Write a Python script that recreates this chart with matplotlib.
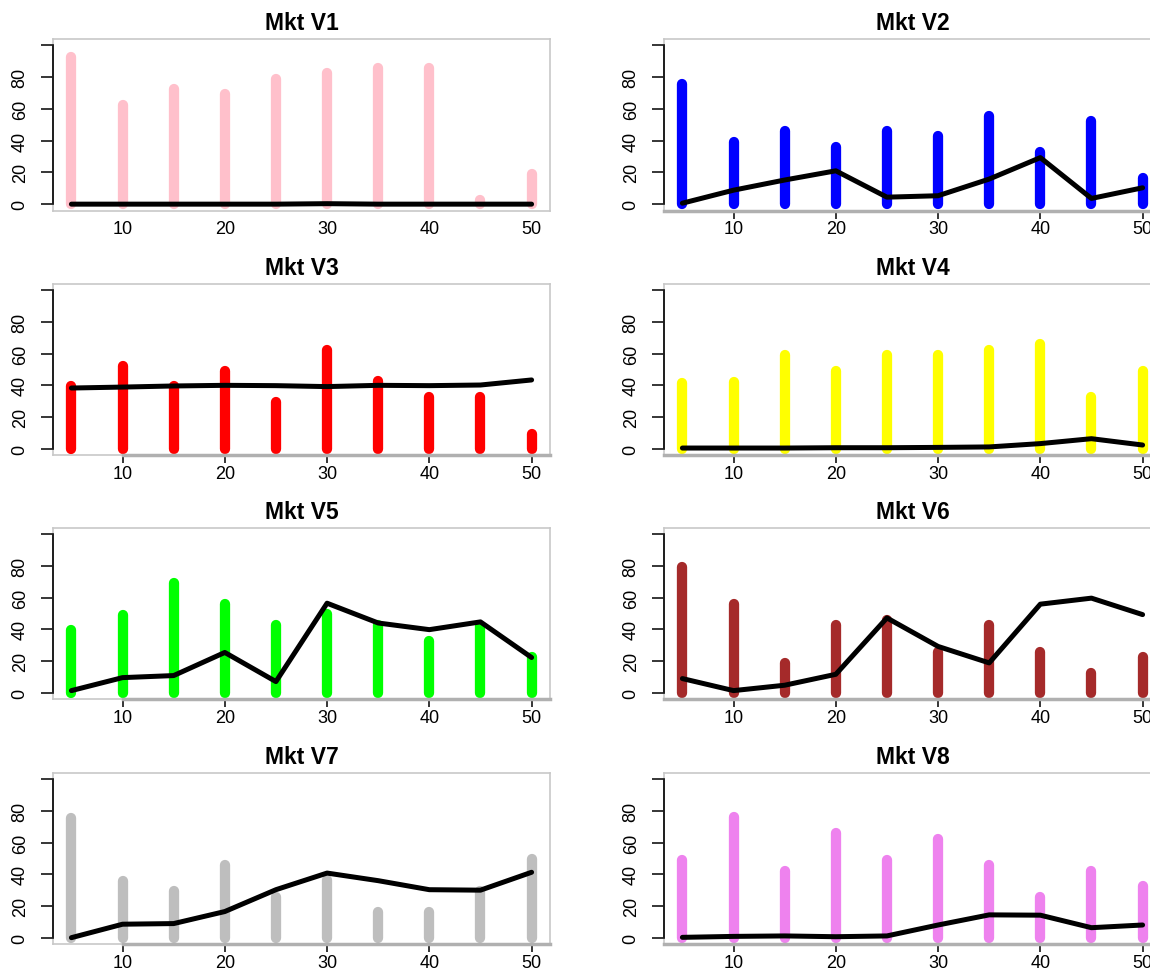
import matplotlib
matplotlib.use("Agg")
import matplotlib.pyplot as plt

plt.rcParams['font.family'] = ['Liberation Sans', 'DejaVu Sans']

# podaci
x = [5, 10, 15, 20, 25, 30, 35, 40, 45, 50]
naslovi = ["Mkt V1", "Mkt V2", "Mkt V3", "Mkt V4",
           "Mkt V5", "Mkt V6", "Mkt V7", "Mkt V8"]
boje = ["pink", "blue", "red", "yellow", "lime", "brown", "#bebebe", "violet"]

v1_stupci = [92.6, 62.5, 72.4, 69.5, 79, 82.5, 85.9, 85.9, 2.5, 19]
v1_linija = [0, 0, 0, 0, 0, 0.3, 0, 0, 0, 0]
v2_stupci = [75.8, 39.4, 45.9, 35.8, 45.9, 42.7, 55.8, 32.6, 52.6, 16.2]
v2_linija = [0.6, 8.8, 15.2, 21, 4.4, 5.3, 15.8, 29.3, 3.6, 10.3]
v3_stupci = [39.4, 52.5, 39.4, 49.3, 29.2, 62.6, 42.5, 32.4, 32.4, 9.1]
v3_linija = [38.3, 38.9, 39.6, 40, 39.8, 39.2, 40, 39.8, 40.2, 43.4]
v4_stupci = [41.3, 42.3, 59.3, 49.3, 59.3, 59.3, 62.6, 65.8, 32.4, 49.3]
v4_linija = [0.4, 0.4, 0.4, 0.6, 0.6, 0.8, 1.1, 3.2, 6.3, 2.3]
v5_stupci = [39.4, 49.3, 69.4, 56.1, 42.5, 50, 42.5, 32.4, 42, 22.4]
v5_linija = [1.3, 9.5, 10.8, 25.4, 7, 56.5, 44, 39.8, 44.7, 22.2]
v6_stupci = [79.4, 56.1, 19, 42.5, 46.1, 26, 42.5, 26, 12.3, 22.4]
v6_linija = [8.9, 1.3, 4.7, 11.6, 47.2, 29.2, 18.8, 55.9, 59.7, 49.3]
v7_stupci = [75.8, 36, 29.2, 46.1, 26, 36.5, 15.9, 15.9, 29.2, 49.5]
v7_linija = [0, 8.5, 8.9, 16.5, 30.3, 40.8, 36, 30.3, 30, 41.3]
v8_stupci = [48.9, 76.2, 42.3, 65.8, 48.9, 62.4, 45.7, 25.6, 42.3, 32.4]
v8_linija = [0.2, 0.8, 1.1, 0.6, 1.1, 8, 14.4, 14.2, 6.3, 8]

stupci = [v1_stupci, v2_stupci, v3_stupci, v4_stupci,
          v5_stupci, v6_stupci, v7_stupci, v8_stupci]
linije = [v1_linija, v2_linija, v3_linija, v4_linija,
          v5_linija, v6_linija, v7_linija, v8_linija]

W, H = 1150, 970
fig = plt.figure(figsize=(W / 100, H / 100), dpi=100)

# polozaji okvira u pikselima
stupci_px = [(53, 550), (664, 1161)]
redovi_px = [(40, 211.5), (285, 456), (529, 700), (774, 945)]

for i in range(8):
    red, kol = divmod(i, 2)
    x0, x1 = stupci_px[kol]
    y0, y1 = redovi_px[red]
    ax = fig.add_axes([x0 / W, 1 - y1 / H, (x1 - x0) / W, (y1 - y0) / H])

    ax.vlines(x, 0, stupci[i], colors=boje[i], linewidth=7.4,
              capstyle='round', zorder=2)
    ax.plot(x, linije[i], color="black", linewidth=3.6,
            solid_capstyle='round', solid_joinstyle='round', zorder=3)

    ax.set_xlim(3.2, 51.8)
    ax.set_ylim(-4, 104)
    for s in ax.spines.values():
        s.set_color("#c8c8c8")
        s.set_linewidth(1.2)

    ax.set_yticks([0, 20, 40, 60, 80, 100])
    ax.set_yticklabels(["0", "20", "40", "60", "80", ""],
                       rotation=90, va="center")
    ax.tick_params(axis="y", length=8.5, width=1.1, pad=9, labelsize=13)
    ax.plot([0, 0], [0, 100], color="black", linewidth=1.2,
            transform=ax.get_yaxis_transform(), clip_on=False, zorder=4)

    ax.set_xticks([10, 20, 30, 40, 50])
    if i == 0:
        ax.tick_params(axis="x", length=0, pad=6.5, labelsize=13)
    else:
        ax.tick_params(axis="x", length=5.5, width=1.1, pad=1.5, labelsize=13)
        ax.plot([3.2 if kol == 1 else 10, 51.8], [0, 0], color="#b0b0b0",
                linewidth=2.5, transform=ax.get_xaxis_transform(),
                clip_on=False, zorder=4)

    ax.set_title(naslovi[i], fontsize=16.5, fontweight="bold", pad=7)

fig.savefig("out.png", dpi=100)
